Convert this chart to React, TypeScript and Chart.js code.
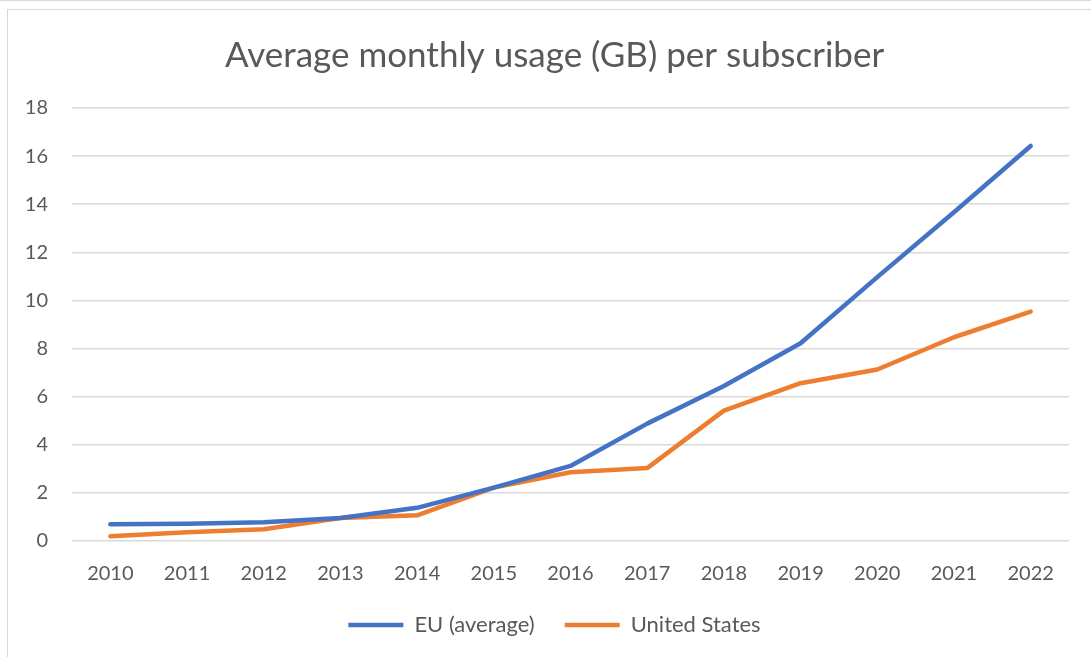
import React, { useEffect, useRef } from "react";
import { Chart, registerables } from "chart.js";

Chart.register(...registerables);

const years = ["2010", "2011", "2012", "2013", "2014", "2015", "2016", "2017", "2018", "2019", "2020", "2021", "2022"];
const euValues = [0.7, 0.72, 0.78, 0.96, 1.38, 2.22, 3.12, 4.88, 6.44, 8.22, 10.97, 13.67, 16.42];
const usValues = [0.2, 0.36, 0.49, 0.96, 1.07, 2.22, 2.86, 3.03, 5.42, 6.56, 7.13, 8.47, 9.54];
const yTicks = [0, 2, 4, 6, 8, 10, 12, 14, 16, 18];

const FONT = "Lato, 'Liberation Sans', sans-serif";
const TEXT = "#595959";

// Shift the title and legend boxes so they are centred like the reference
const recentre = {
  id: "recentre",
  afterLayout(chart: any) {
    const area = chart.chartArea;
    const left = 40;
    if (chart.titleBlock) {
      chart.titleBlock.left = left;
      chart.titleBlock.right = area.right;
      chart.titleBlock.width = area.right - left;
    }
    if (chart.legend) {
      chart.legend.left = left;
      chart.legend.right = area.right;
      chart.legend.width = area.right - left;
    }
  },
};

export default function App() {
  const ref = useRef<HTMLCanvasElement | null>(null);

  useEffect(() => {
    if (!ref.current) return;
    const chart = new Chart(ref.current, {
      type: "line",
      data: {
        labels: years,
        datasets: [
          {
            label: "EU (average)",
            data: euValues,
            borderColor: "#4472C4",
            backgroundColor: "#4472C4",
            borderWidth: 4.5,
            borderCapStyle: "round",
            borderJoinStyle: "round",
            pointRadius: 0,
            tension: 0,
          },
          {
            label: "United States",
            data: usValues,
            borderColor: "#ED7D31",
            backgroundColor: "#ED7D31",
            borderWidth: 4.5,
            borderCapStyle: "round",
            borderJoinStyle: "round",
            pointRadius: 0,
            tension: 0,
          },
        ],
      },
      plugins: [recentre],
      options: {
        responsive: false,
        animation: false,
        layout: { padding: { left: 0, right: 22, top: 0, bottom: 11 } },
        plugins: {
          title: {
            display: true,
            text: "Average monthly usage (GB) per subscriber",
            color: TEXT,
            font: { family: FONT, size: 35, weight: "normal" },
            padding: { top: 35, bottom: 31 },
          },
          legend: {
            position: "bottom",
            labels: {
              usePointStyle: true,
              pointStyle: "line",
              pointStyleWidth: 55,
              color: TEXT,
              font: { family: FONT, size: 22 },
              padding: 30,
            },
          },
          tooltip: { enabled: false },
        },
        scales: {
          x: {
            offset: true,
            grid: { display: false, drawTicks: false },
            border: { display: false },
            ticks: { color: TEXT, font: { family: FONT, size: 20 }, padding: 21, maxRotation: 0 },
            afterFit: (s: any) => {
              s.height = 43;
            },
          },
          y: {
            min: 0,
            max: 18,
            afterBuildTicks: (s: any) => {
              s.ticks = yTicks.map((v) => ({ value: v }));
            },
            grid: { color: "#d9d9d9", lineWidth: 1.5, drawTicks: false },
            border: { display: false },
            ticks: { color: TEXT, font: { family: FONT, size: 20 }, padding: 24 },
            afterFit: (s: any) => {
              s.width = 72;
            },
          },
        },
      },
    });
    return () => chart.destroy();
  }, []);

  return (
    <div
      style={{
        position: "fixed",
        left: 0,
        top: 0,
        width: 1091,
        height: 657,
        overflow: "hidden",
        background: "#fff",
      }}
    >
      <div style={{ position: "absolute", left: 0, top: 0, width: 1091, height: 1, background: "#d9d9d9" }} />
      <div
        style={{
          position: "absolute",
          left: 7,
          top: 9,
          width: 1200,
          height: 700,
          border: "1px solid #d9d9d9",
        }}
      />
      <canvas ref={ref} width={1091} height={657} style={{ position: "absolute", left: 0, top: 0 }} />
    </div>
  );
}
